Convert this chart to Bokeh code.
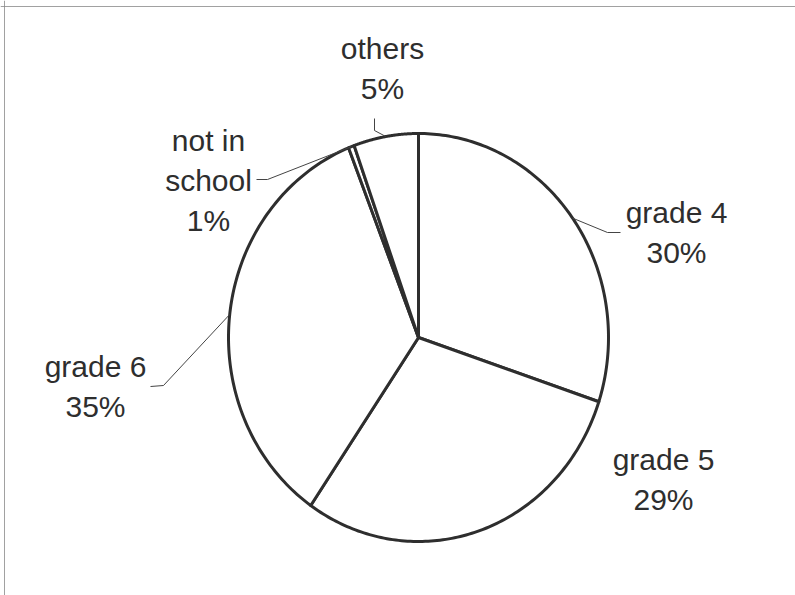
import numpy as np
from bokeh.plotting import figure
from bokeh.models import Range1d, ColumnDataSource, Span
from bokeh.core.properties import value
from bokeh.embed import file_html
from bokeh.resources import INLINE

# ---- data ----
categories = ["grade 4", "grade 5", "grade 6", "not in school", "others"]
shares = [30.1, 29.5, 34.4, 0.5, 5.5]
pct_labels = ["30%", "29%", "35%", "1%", "5%"]
label_names = ["grade 4", "grade 5", "grade 6", "not in\nschool", "others"]

# ---- layout constants (page pixel coords) ----
W, H = 795, 595
FL, FT = 4, 6
cx, cy, rx, ry = 418, 337, 190, 204
label_pos = {
    "grade 4": (676, 232),
    "grade 5": (663, 479),
    "grade 6": (95, 386),
    "not in school": (208, 180),
    "others": (382, 68),
}
leader_elbows = {
    "grade 4": [(607, 232), (620, 232)],
    "grade 5": None,
    "grade 6": [(163, 385), (150, 386)],
    "not in school": [(267, 179), (256, 179)],
    "others": [(374, 130), (374, 118)],
}

p = figure(width=W, height=H, x_range=Range1d(0, W), y_range=Range1d(H, 0),
           output_backend="svg", toolbar_location=None, min_border=0,
           x_axis_location=None, y_axis_location=None)
p.grid.visible = False
p.outline_line_color = None
p.background_fill_color = "white"
p.border_fill_color = "white"

p.add_layout(Span(location=FL, dimension="height", line_color="#8a8a8a",
                  line_width=1, line_alpha=0.8))
p.add_layout(Span(location=FT, dimension="width", line_color="#8a8a8a",
                  line_width=1, line_alpha=0.8))

fr = np.array(shares, dtype=float) / sum(shares)
cum = np.concatenate([[0.0], np.cumsum(fr)])

xs, ys = [], []
mids = []
for i in range(len(shares)):
    th = np.linspace(cum[i], cum[i + 1], 120) * 2 * np.pi
    xs.append([cx] + list(cx + rx * np.sin(th)) + [cx])
    ys.append([cy] + list(cy - ry * np.cos(th)) + [cy])
    mids.append((cum[i] + cum[i + 1]) * np.pi)

p.patches(xs, ys, fill_color="white", line_color="#2e2e2e", line_width=3,
          line_join="round")

# leader lines
lx, ly = [], []
for i, c in enumerate(categories):
    el = leader_elbows[c]
    if not el:
        continue
    ex = cx + rx * np.sin(mids[i])
    ey = cy - ry * np.cos(mids[i])
    lx.append([ex] + [e[0] for e in el])
    ly.append([ey] + [e[1] for e in el])
p.multi_line(lx, ly, line_color="#444444", line_width=1)

# labels
tx = [label_pos[c][0] for c in categories]
ty = [label_pos[c][1] for c in categories]
texts = [f"{n}\n{pc}" for n, pc in zip(label_names, pct_labels)]
src = ColumnDataSource(dict(x=tx, y=ty, t=texts))
p.text("x", "y", text="t", source=src, text_font=value("Liberation Sans"),
       text_font_size="30px", text_color="#2e2e2e", text_align="center",
       text_baseline="middle", text_line_height=1.2)

open("out.html", "w").write(file_html(p, INLINE))
